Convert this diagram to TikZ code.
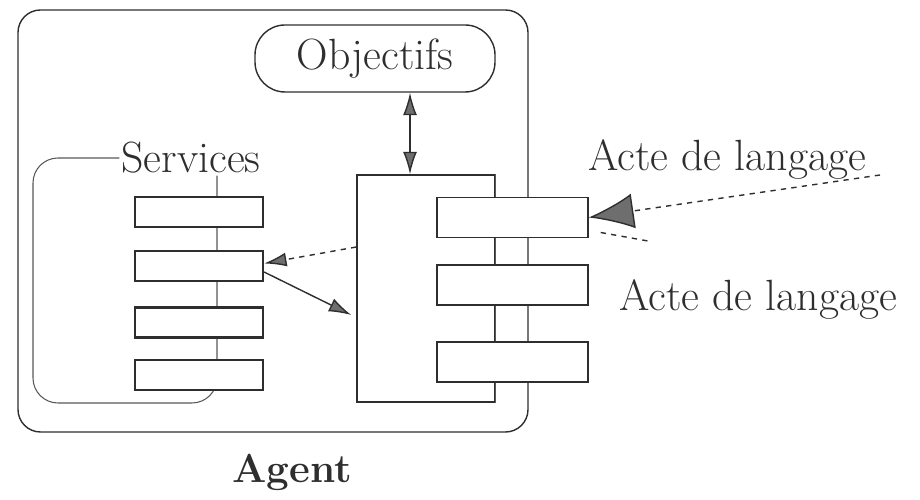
\documentclass[tikz,border=0pt]{standalone}
\usetikzlibrary{arrows.meta,positioning,calc}
\definecolor{ink}{HTML}{2E2E2E}
\definecolor{tipgray}{HTML}{6E6E6E}

\begin{document}
\begin{tikzpicture}[
  srv/.style={rectangle, draw=ink, very thick, fill=white, minimum width=2.56cm, minimum height=0.6cm, inner sep=0pt},
  act/.style={rectangle, draw=ink, thick, fill=white, minimum width=3.02cm, minimum height=0.8cm, inner sep=0pt},
  lbl/.style={font=\Huge, text=ink, inner sep=1pt},
  gtip/.tip={Latex[length=4.5mm,width=2.8mm,fill=tipgray]},
  msg/.style={-gtip, thick, ink}
]
  \useasboundingbox (0,0) rectangle (18.4,10);
  % agent
  \node[draw=ink, thick, rounded corners=0.45cm, minimum width=10.2cm, minimum height=8.44cm, inner sep=0pt] (box) at (5.46,5.58) {};
  \node[font=\fontsize{23}{28}\selectfont\bfseries, text=ink] (agent) at (5.84,0.56) {Agent};
  \node[draw=ink, thick, rounded corners=0.6cm, minimum width=4.8cm, minimum height=1.34cm, font=\Huge, text=ink] (obj) at (7.5,8.83) {Objectifs};
  % services
  \node[lbl, fill=white] (svc) at (3.82,6.84) {Services};
  \coordinate (sx) at (4.34,1.94);
  \draw[ink!80, semithick, rounded corners=0.5cm] (svc.west) -- (0.66,6.84) -- (0.66,1.94) -- (sx) -- (sx |- svc.south);
  \node[srv] (s1) at (3.98,5.76) {};
  \node[srv] (s2) at (3.98,4.68) {};
  \node[srv] (s3) at (3.98,3.55) {};
  \node[srv] (s4) at (3.98,2.50) {};
  % control part
  \node[draw=ink, thick, fill=white, minimum width=2.76cm, minimum height=4.54cm, inner sep=0pt] (ctrl) at (8.52,4.23) {};
  \draw[ink!80, semithick] (ctrl.north east) -- (ctrl.south east);
  \node[act] (r1) at (10.25,5.65) {};
  \node[act] (r2) at (10.25,4.30) {};
  \node[act] (r3) at (10.25,2.76) {};
  % arrows
  \draw[thick, ink, gtip-gtip] ([xshift=0.7cm]obj.south) -- ([xshift=0.7cm]obj.south |- ctrl.north);
  \draw[msg, dashed] ([yshift=0.83cm]ctrl.west) -- ([yshift=0.05cm]s2.east);
  \draw[msg] ([yshift=-0.12cm]s2.east) -- ([shift={(-0.1,-0.53)}]ctrl.west);
  % speech acts
  \coordinate (src) at (17.6,6.5);
  \coordinate (dst) at (12.96,5.18);
  \draw[dashed, ink, thick, -{Latex[length=9mm,width=7mm,fill=tipgray]}] (src) -- (r1.east);
  \draw[dashed, ink, thick] ([shift={(0.24,-0.3)}]r1.east) -- (dst);
  \node[lbl] (actin) at (14.54,6.8) {Acte de langage};
  \node[lbl] (actout) at (15.16,4.0) {Acte de langage};
\end{tikzpicture}
\end{document}
